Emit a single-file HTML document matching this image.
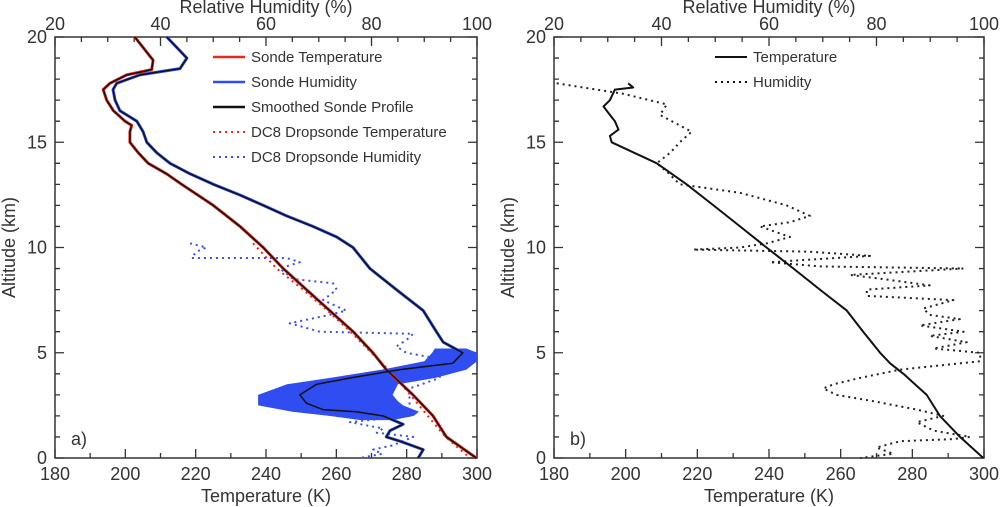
<!DOCTYPE html>
<html><head><meta charset="utf-8"><style>
body{margin:0;background:#fff;}
svg{display:block;font-family:"Liberation Sans",sans-serif;}
</style></head><body>
<svg id="c" width="1000" height="507"></svg>
<script>
// Panel a data
const aTempAlt=[20,18.9,18.45,18.2,17.8,17.5,17,16.5,16,15.8,15.5,15,14.5,14,13.5,13,12,11,10,9,8,7,6,5,4.2,3,2,1,0];
const aTempVal=[202.7,207.9,207.5,200.4,195.6,193.7,194.7,196.6,199.9,201.8,201.3,201.3,203.7,206.5,211.7,216,225,232.6,239.2,244.9,251.5,258.1,264.8,270.4,274.2,281.8,287.5,291.3,299.8];
const aRhAlt=[20,19,18.5,18.2,17.8,17.5,17,16.5,16,15.5,15,14.5,14,13.5,13,12.5,12,11.5,11,10.5,10,9,8,7,6,5.5,5,4.5,4.2,3.8,3.5,3,2.6,2.3,2.2,2,1.6,1.3,1,0.8,0.4,0.1,0];
const aRhVal=[41.2,45,43.7,36.1,31.7,31,31.4,32.3,35.5,36.7,37.4,39.3,41.8,45.6,50,55,59.5,63.9,68.9,73.4,76.5,79.7,84.7,89.8,92.3,93.6,97.3,95.4,85.4,75.9,69.6,66.4,67.7,70.8,77.1,82.2,86,83.5,82.8,85.4,89.8,89.1,88.8];
const spreadAlt=[5.2,5,4.6,4.2,3.8,3.5,3,2.7,2.5,2.2,2,1.8];
const spreadLo=[92,91.5,90,82,72,64,58.5,58.5,58.5,65,72,78];
const spreadHi=[98,100,100,98,92,85,84,85,86,89,88,84];
const aDropTAlt=[10.2,9,8,7,6,5,4,3,2,1,0];
const aDropTVal=[236.3,243,250.5,257.5,264,270,276,281,286,291,298];
const aDropRAlt=[10.2,10,9.8,9.5,9.5,9.3,9,8.5,8.3,8,7.5,7,6.8,6.4,6,5.9,5.6,5.3,5,4.8,4.5,3.8,3.3,2,1.7,1.4,1.2,1,0.6,0.4,0.2,0];
const aDropRVal=[45.6,48.7,46.8,45.9,63.9,66.4,62.6,65.2,72.7,73.4,70.8,75.2,72,64.5,70.2,87.9,86.6,84.7,86.6,91,93.6,92.9,87.2,87.2,75.9,82.2,81,87.9,84,80.3,82,77.8];
// Panel b data
const bTempAlt=[17.8,17.6,17.5,17,16.7,16.3,16,15.6,15.3,15,14,13,12,11,10,9,8,7,6,5,4.5,4,3,2,1,0];
const bTempVal=[200.7,202.1,197,195.6,193.8,195.6,197,198,195.6,196.1,208.7,217,224.5,231.9,239.3,246.8,254.2,261.7,266.3,271,273.8,277.5,284,287.7,293.3,299.8];
const bRhAlt=[17.8,17.3,16.8,16.3,15.5,15,14.5,14,13.6,13,12.6,12,11.5,11.2,11,10.5,10.2,10,9.9,9.8,9.6,9.3,9.1,9.0,8.7,8.5,8.2,8.0,7.7,7.5,7.1,6.8,6.6,6.3,6,5.8,5.5,5.2,5,4.6,4.2,3.8,3.5,3.3,3,2.7,2.3,2,1.7,1.3,1.0,0.9,0.8,0.5,0.2,0.1,0];
const bRhVal=[20.5,32.9,41,39.7,45.6,43.4,41.6,39.1,41,43.4,54.6,63.3,67.6,63.9,58.3,63.9,59.6,54.6,45.9,67.6,78.8,60.2,69.5,96.2,75.1,81.3,89.9,78.2,78.2,94.3,88.7,89.9,95.5,88.1,96.2,89.9,96.8,90.6,99.3,99.3,84.4,76.9,72,70.1,72.6,79.4,87.5,92.4,87.5,90.6,97.4,94.3,84.4,80,83.1,80,77];
const xTicks=[180,200,220,240,260,280,300];
const rhTicks=[20,40,60,80,100];
const yTicks=[0,5,10,15,20];

const NS="http://www.w3.org/2000/svg";
const svg=document.getElementById('c');
function mk(tag,at,parent){const e=document.createElementNS(NS,tag);for(const k in at)e.setAttribute(k,at[k]);(parent||svg).appendChild(e);return e;}
function txt(s,at){const e=mk('text',at);e.textContent=s;return e;}

function panel(x0,x1,y0,y1,tag){
  const g=mk('g',{});
  
  
  const P={
    xT:t=>x0+(t-180)/120*(x1-x0),
    xR:r=>x0+(r-20)/80*(x1-x0),
    y:a=>y1-a/20*(y1-y0),g};
  const box=mk('rect',{x:x0,y:y0,width:x1-x0,height:y1-y0,fill:'none',stroke:'#333','stroke-width':1.5},g);
  
  
  let d='';
  for(let t=180;t<=300;t+=10){const L=(t%20==0)?9:5;const X=P.xT(t);d+=`M${X},${y1}v${-L}`;}
  for(let r=20;r<=100;r+=5){const L=(r%20==0)?9:5;const X=P.xR(r);d+=`M${X},${y0}v${L}`;}
  for(let a=0;a<=20;a++){const L=(a%5==0)?9:5;const Y=P.y(a);d+=`M${x0},${Y}h${L}M${x1},${Y}h${-L}`;}
  const tk=mk('path',{d:d,stroke:'#333','stroke-width':1.3,fill:'none'},g);
  
  
  xTicks.forEach(t=>{const e=txt(t,{x:P.xT(t),y:y1+22,'font-size':18,'text-anchor':'middle',fill:'#333'});
    
    });
  rhTicks.forEach(r=>{const e=txt(r,{x:P.xR(r),y:y0-7,'font-size':18,'text-anchor':'middle',fill:'#333'});
    
    });
  yTicks.forEach(a=>{const e=txt(a,{x:x0-8,y:P.y(a)+6,'font-size':18,'text-anchor':'end',fill:'#333'});
    
    });
  const xt=txt('Temperature (K)',{x:(x0+x1)/2,y:y1+44,'font-size':18,'text-anchor':'middle',fill:'#333'});
  
  
  const tt=txt('Relative Humidity (%)',{x:(x0+x1)/2,y:13,'font-size':18,'text-anchor':'middle',fill:'#333'});
  
  
  const yt=txt('Altitude (km)',{x:0,y:0,'font-size':18,'text-anchor':'middle',fill:'#333',transform:`translate(${x0-40},${(y0+y1)/2}) rotate(-90)`});
  
  
  const pl=txt(tag+')',{x:x0+16,y:y1-13,'font-size':18,fill:'#333'});
  
  
  return P;
}
function line(P,alts,vals,fx,at,name){
  const pts=alts.map((a,i)=>fx(vals[i]).toFixed(1)+','+P.y(a).toFixed(1)).join(' ');
  const e=mk('polyline',Object.assign({points:pts,fill:'none','stroke-linejoin':'round'},at));
  
  
  return e;
}

// Panel a
const A=panel(55,477,37,458,'a');
let sp=[];
spreadAlt.forEach((a,i)=>sp.push(A.xR(spreadLo[i]).toFixed(1)+','+A.y(a).toFixed(1)));
for(let i=spreadAlt.length-1;i>=0;i--)sp.push(A.xR(spreadHi[i]).toFixed(1)+','+A.y(spreadAlt[i]).toFixed(1));
const spe=mk('polygon',{points:sp.join(' '),fill:'#2f4df0'});


line(A,aDropTAlt,aDropTVal,A.xT,{stroke:'#e8291c','stroke-width':2,'stroke-dasharray':'2 4'},'dropsonde-temperature');
line(A,aDropRAlt,aDropRVal,A.xR,{stroke:'#3a4ee8','stroke-width':2,'stroke-dasharray':'2 4'},'dropsonde-humidity');
line(A,aTempAlt,aTempVal,A.xT,{stroke:'#e8291c','stroke-width':3},'sonde-temperature');
line(A,aRhAlt,aRhVal,A.xR,{stroke:'#2f4df0','stroke-width':3},'sonde-humidity');
line(A,aTempAlt,aTempVal,A.xT,{stroke:'#111','stroke-width':1.5},'smoothed-temperature');
line(A,aRhAlt,aRhVal,A.xR,{stroke:'#111','stroke-width':1.5},'smoothed-humidity');
const legA=[['Sonde Temperature','#e8291c',0],['Sonde Humidity','#2f4df0',0],['Smoothed Sonde Profile','#111',0],['DC8 Dropsonde Temperature','#e8291c',1],['DC8 Dropsonde Humidity','#3a4ee8',1]];
legA.forEach((l,i)=>{const y=57+i*25;
  const ln=mk('line',{x1:213,x2:245,y1:y,y2:y,stroke:l[1],'stroke-width':l[2]?2:2.5,'stroke-dasharray':l[2]?'2 4':'none'});
  
  
  const t=txt(l[0],{x:251,y:y+5,'font-size':15,fill:'#333'});
  
  });

// Panel b
const B=panel(554,984,37,458,'b');
line(B,bRhAlt,bRhVal,B.xR,{stroke:'#222','stroke-width':2,'stroke-dasharray':'2 4'},'humidity-line');
line(B,bTempAlt,bTempVal,B.xT,{stroke:'#111','stroke-width':2},'temperature-line');
[['Temperature',0],['Humidity',1]].forEach((l,i)=>{const y=57+i*25;
  const ln=mk('line',{x1:715,x2:747,y1:y,y2:y,stroke:'#111','stroke-width':2,'stroke-dasharray':l[1]?'2 4':'none'});
  
  
  const t=txt(l[0],{x:753,y:y+5,'font-size':15,fill:'#333'});
  
  });
</script>
</body></html>
